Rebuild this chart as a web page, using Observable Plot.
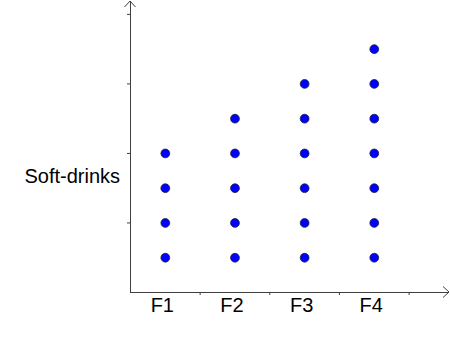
<!DOCTYPE html>
<html>
<head>
<meta charset="utf-8">
<script src="https://cdn.jsdelivr.net/npm/d3@7"></script>
<script src="https://cdn.jsdelivr.net/npm/@observablehq/plot@0.6"></script>
<style>
  html, body { margin: 0; padding: 0; background: #fff; }
</style>
</head>
<body>
<div id="chart"></div>
<script>
const categories = ["F1", "F2", "F3", "F4"];
const counts = [4, 5, 6, 7];
const xTicks = [1, 2, 3, 4];
const yTicks = [2, 4, 6, 8];
const yLabel = "Soft-drinks";

const points = categories.flatMap((c, i) =>
  d3.range(1, counts[i] + 1).map(k => ({cat: c, x: i + 0.5, y: k}))
);

const axisColor = "#404040";
const font = "'Liberation Sans', Arial, sans-serif";

const plot = Plot.plot({
  width: 450,
  height: 358,
  marginLeft: 130,
  marginRight: 1,
  marginTop: 1,
  marginBottom: 66,
  x: {domain: [0, 4.58]},
  y: {domain: [0, 8.37]},
  style: {fontFamily: font, background: "#fff", color: "#000"},
  marks: [
    Plot.axisX({ticks: xTicks, tickSize: 3, tickFormat: () => "", label: null, stroke: axisColor}),
    Plot.axisY({ticks: yTicks, tickSize: 3, tickFormat: () => "", label: null, stroke: axisColor}),
    Plot.ruleX([0], {stroke: axisColor, strokeWidth: 1}),
    Plot.ruleY([0], {stroke: axisColor, strokeWidth: 1}),
    Plot.dot(points, {x: "x", y: "y", r: 4.4, fill: "#0000ff", stroke: "#20203a", strokeWidth: 0.8}),
    Plot.text(categories, {x: (d, i) => i + 0.5, y: 0, dx: -3, dy: 13, fontSize: 20, fill: "#000"}),
    Plot.text([yLabel], {frameAnchor: "left", textAnchor: "start", dx: -106, dy: 30, fontSize: 20, fill: "#000"})
  ]
});

// arrowheads at the axis ends, placed via the plot's scales
const sx = plot.scale("x"), sy = plot.scale("y");
const x0 = sx.apply(0), x1 = sx.apply(sx.domain[1]);
const y0 = sy.apply(0), y1 = sy.apply(sy.domain[1]);
const svg = d3.select(plot.tagName.toLowerCase() === "svg" ? plot : plot.querySelector("svg"));
svg.append("path")
  .attr("d", `M${x0 - 5.5},${y1 + 6}L${x0},${y1}L${x0 + 5.5},${y1 + 6}`)
  .attr("fill", "none").attr("stroke", axisColor).attr("stroke-width", 1);
svg.append("path")
  .attr("d", `M${x1 - 6},${y0 - 5.5}L${x1},${y0}L${x1 - 6},${y0 + 5.5}`)
  .attr("fill", "none").attr("stroke", axisColor).attr("stroke-width", 1);

document.getElementById("chart").appendChild(plot);
</script>
</body>
</html>
